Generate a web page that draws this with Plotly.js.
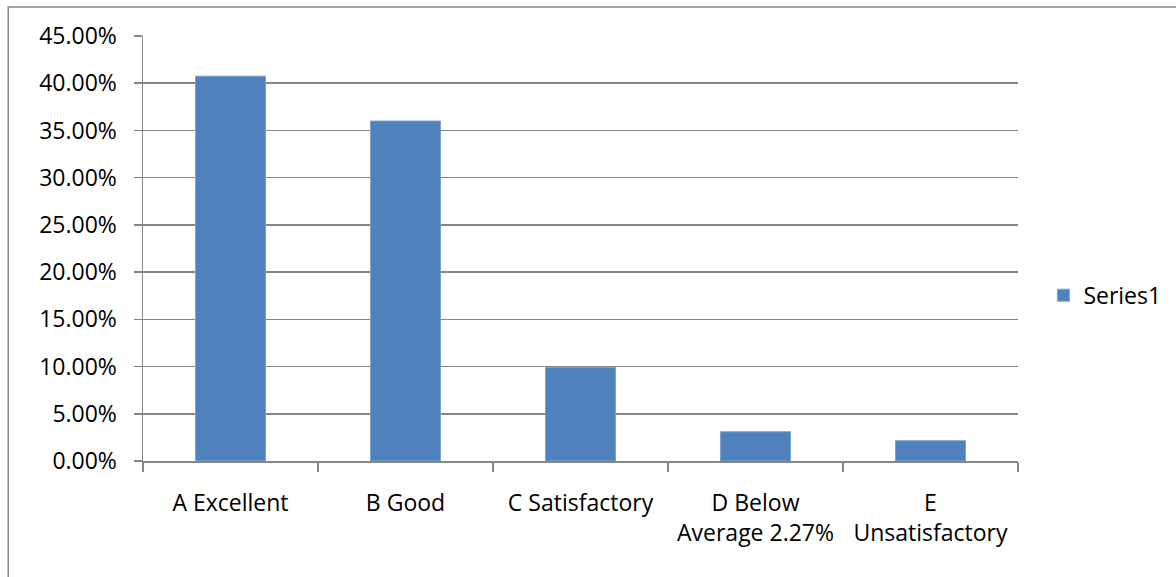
<!DOCTYPE html>
<html>
<head>
<meta charset="utf-8">
<script src="https://cdn.plot.ly/plotly-3.0.1.min.js"></script>
<style>html,body{margin:0;padding:0;background:#fff;}#chart{width:1176px;height:577px;}</style>
</head>
<body>
<div id="chart"></div>
<script>
var categories = ["A Excellent", "B Good", "C Satisfactory", "D Below<br>Average 2.27%", "E<br>Unsatisfactory"];
var seriesName = "Series1";
var values = [0.4075, 0.3600, 0.0990, 0.0310, 0.0215];
var yTickVals = [0, 0.05, 0.10, 0.15, 0.20, 0.25, 0.30, 0.35, 0.40, 0.45];
var yTickText = ["0.00%", "5.00%", "10.00%", "15.00%", "20.00%", "25.00%", "30.00%", "35.00%", "40.00%", "45.00%"];

var fontFam = "Open Sans, Noto Sans, sans-serif";
var trace = {
  type: "bar",
  x: categories,
  y: values,
  name: seriesName,
  width: 0.4,
  marker: {color: "#4F81BD", line: {color: "#7FA1CE", width: 1}},
  showlegend: true,
  hoverinfo: "x+y"
};
var layout = {
  width: 1176, height: 577,
  margin: {l: 143, r: 158, t: 36, b: 116, autoexpand: false},
  paper_bgcolor: "#fff", plot_bgcolor: "#fff",
  font: {family: fontFam, size: 23, color: "#000"},
  showlegend: true,
  legend: {x: 1.029, xanchor: "left", y: 0.39, yanchor: "middle", font: {size: 23, family: fontFam}, bgcolor: "rgba(0,0,0,0)", itemwidth: 30},
  bargap: 0.6,
  xaxis: {
    type: "category",
    tickson: "boundaries",
    ticks: "outside", ticklen: 9, tickcolor: "#868686", tickwidth: 1.5,
    showline: true, linecolor: "#868686", linewidth: 1.5,
    showgrid: false, zeroline: false,
    tickfont: {size: 23, family: fontFam},
    ticklabelstandoff: 21
  },
  yaxis: {
    range: [0, 0.45],
    tickvals: yTickVals, ticktext: yTickText,
    ticks: "outside", ticklen: 8, tickcolor: "#868686", tickwidth: 1.5,
    showline: true, linecolor: "#868686", linewidth: 1.5,
    showgrid: true, gridcolor: "#868686", gridwidth: 1.5,
    zeroline: false,
    tickfont: {size: 23, family: fontFam},
    ticklabelstandoff: 12
  },
  shapes: [{
    type: "rect", xref: "paper", yref: "paper",
    x0: -0.154, x1: 1.5, y0: -1, y1: 1.068,
    line: {color: "#868686", width: 1.5}, fillcolor: "rgba(0,0,0,0)", layer: "below"
  }]
};
Plotly.newPlot("chart", [trace], layout, {displayModeBar: false, staticPlot: true});
</script>
</body>
</html>
